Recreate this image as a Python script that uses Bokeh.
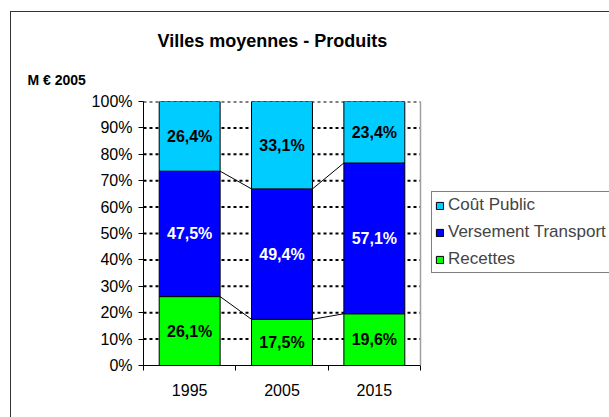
from bokeh.plotting import figure
from bokeh.models import (Range1d, FixedTicker, Legend, LegendItem, Title, Span,
                          ColumnDataSource, PrintfTickFormatter, InlineStyleSheet)
from bokeh.core.properties import value
from bokeh.embed import file_html
from bokeh.resources import INLINE

years = ["1995", "2005", "2015"]
recettes = [26.1, 17.5, 19.6]
versement = [47.5, 49.4, 57.1]
cout_public = [26.4, 33.1, 23.4]
series_names = ["Recettes", "Versement Transport", "Coût Public"]
colors = ["#00FF00", "#0000FF", "#00CCFF"]
label_colors = ["black", "white", "black"]
y_ticks = [0, 10, 20, 30, 40, 50, 60, 70, 80, 90, 100]

FONT = "Liberation Sans"
W, H = 609, 417
PLOT_L, PLOT_R = 143, 420          # pixel extent of the plot area
n = len(years)
xs = [i + 0.5 for i in range(n)]
bar_w = 0.66
px_per_cat = (PLOT_R - PLOT_L) / n
x_end = n + (W - PLOT_R) / px_per_cat   # frame extends to the right edge to host the legend

p = figure(width=W, height=H, output_backend="svg", toolbar_location=None,
           x_range=Range1d(0, x_end), y_range=Range1d(0, 100),
           min_border_left=PLOT_L, min_border_right=0, min_border_top=101, min_border_bottom=52)
p.stylesheets = [InlineStyleSheet(css=(
    ":host::after { content: ''; position: absolute; left: 10px; top: 11px; right: 0px; "
    "bottom: 0px; border-left: 1.5px solid #333333; border-top: 1.5px solid #333333; "
    "pointer-events: none; z-index: 10; }"))]
p.background_fill_color = "white"
p.border_fill_color = "white"
p.outline_line_color = None

# dashed gridlines limited to the plot area
p.xgrid.grid_line_color = None
p.ygrid.grid_line_color = None
gy = y_ticks[1:]
p.segment(x0=[0] * len(gy), x1=[n] * len(gy), y0=gy, y1=gy,
          line_color="black", line_width=2, line_dash="3 3")
p.add_layout(Span(location=n, dimension="height", line_color="#a0a0a0", line_width=1.5))

src = ColumnDataSource(dict(x=xs, rec=recettes, vt=versement, cp=cout_public))
keys = ["rec", "vt", "cp"]
rends = p.vbar_stack(keys, x="x", width=bar_w, source=src, color=colors,
                     line_color="black", line_width=1)

# series lines between bars
cum1 = recettes
cum2 = [a + b for a, b in zip(recettes, versement)]
for cum in (cum1, cum2):
    p.segment(x0=[xs[i] + bar_w / 2 for i in range(n - 1)],
              y0=[cum[i] for i in range(n - 1)],
              x1=[xs[i + 1] - bar_w / 2 for i in range(n - 1)],
              y1=[cum[i + 1] for i in range(n - 1)],
              line_color="black", line_width=1)

# data labels
series_vals = [recettes, versement, cout_public]
base = [0.0] * n
for vals, lc in zip(series_vals, label_colors):
    mids = [b + v / 2 for b, v in zip(base, vals)]
    texts = [f"{v:.1f}".replace(".", ",") + "%" for v in vals]
    p.text(x=xs, y=mids, text=texts, text_align="center", text_baseline="middle",
           text_color=lc, text_font=value(FONT), text_font_style="bold",
           text_font_size="16px")
    base = [b + v for b, v in zip(base, vals)]

# axes
p.yaxis.ticker = FixedTicker(ticks=y_ticks)
p.yaxis.formatter = PrintfTickFormatter(format="%d%%")
p.yaxis.major_tick_out = 5
p.yaxis.major_tick_in = 0
p.yaxis.minor_tick_line_color = None
p.yaxis.axis_line_color = "black"
p.yaxis.major_label_text_font = FONT
p.yaxis.major_label_text_font_size = "16px"
p.yaxis.major_label_text_color = "black"
p.yaxis.major_label_standoff = 6

p.xaxis.bounds = (0, n)
p.xaxis.ticker = FixedTicker(ticks=xs, minor_ticks=list(range(n + 1)))
p.xaxis.major_label_overrides = {x: y for x, y in zip(xs, years)}
p.xaxis.major_tick_line_color = None
p.xaxis.minor_tick_out = 5
p.xaxis.minor_tick_in = 0
p.xaxis.minor_tick_line_color = "black"
p.xaxis.axis_line_color = "black"
p.xaxis.major_label_text_font = FONT
p.xaxis.major_label_text_font_size = "16px"
p.xaxis.major_label_text_color = "black"
p.xaxis.major_label_standoff = 12

# legend (inside the widened frame, right of the plot area)
items = [LegendItem(label=series_names[i], renderers=[rends[i]]) for i in (2, 1, 0)]
legend = Legend(items=items, location=(288, 92), orientation="vertical")
legend.label_text_font = FONT
legend.label_text_font_size = "17px"
legend.glyph_width = 9
legend.glyph_height = 9
legend.label_height = 20
legend.spacing = 7
legend.padding = 3
legend.margin = 0
legend.label_standoff = 4
legend.border_line_color = "black"
legend.border_line_width = 1
legend.background_fill_color = "white"
legend.background_fill_alpha = 1
p.add_layout(legend, "center")

# titles
p.add_layout(Title(text="M € 2005", align="left", offset=-116, standoff=27,
                   text_font=FONT, text_font_style="bold", text_font_size="14px",
                   text_color="black"), "above")
p.add_layout(Title(text="Villes moyennes - Produits", align="left", offset=14, standoff=12,
                   text_font=FONT, text_font_style="bold", text_font_size="18px",
                   text_color="black"), "above")

open("out.html", "w").write(file_html(p, INLINE))
